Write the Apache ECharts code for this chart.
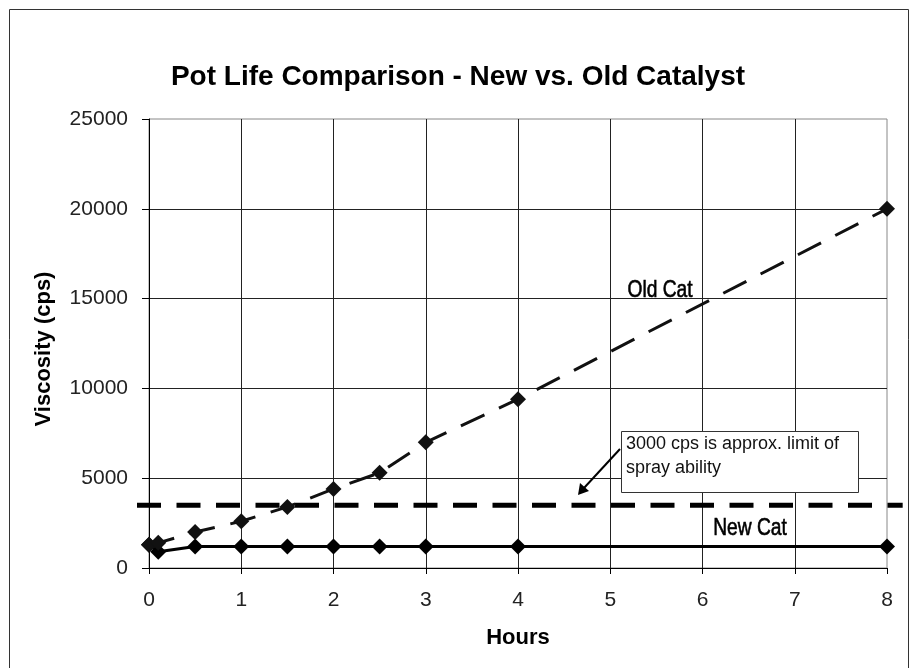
<!DOCTYPE html>
<html>
<head>
<meta charset="utf-8">
<script src="https://cdn.jsdelivr.net/npm/echarts@6/dist/echarts.min.js"></script>
<style>
html,body{margin:0;padding:0;background:#fff;}
#chart{width:916px;height:668px;}
</style>
</head>
<body>
<div id="chart"></div>
<script>
// ---- data ----
const hours = [0, 0.1, 0.5, 1, 1.5, 2, 2.5, 3, 4, 8];
const oldCat = [1300, 1400, 2000, 2600, 3400, 4400, 5300, 7000, 9400, 20000];
const newCat = [1300, 900, 1200, 1200, 1200, 1200, 1200, 1200, 1200, 1200];
const limitValue = 3500;
const limitSpan = [-0.13, 8.17];
const xTicks = [0, 1, 2, 3, 4, 5, 6, 7, 8];
const yTicks = [0, 5000, 10000, 15000, 20000, 25000];
const titleText = 'Pot Life Comparison - New vs. Old Catalyst';
const xName = 'Hours';
const yName = 'Viscosity (cps)';
const noteLines = ['3000 cps is approx. limit of', 'spray ability'];
const seriesLabels = ['Old Cat', 'New Cat'];

const chart = echarts.init(document.getElementById('chart'));
const F = 'Liberation Sans, Arial, sans-serif';
const NARROW = 'Liberation Sans Narrow, Arial Narrow, Liberation Sans, sans-serif';

const option = {
  animation: false,
  backgroundColor: '#fff',
  title: {
    text: titleText, left: 'center', top: 58,
    textStyle: {fontFamily: F, fontSize: 28, fontWeight: 'bold', color: '#000'}
  },
  grid: {left: 149, right: 29, top: 119, bottom: 100, show: true, borderColor: '#888', borderWidth: 1},
  xAxis: {
    type: 'value', min: xTicks[0], max: xTicks[xTicks.length - 1], interval: 1,
    name: xName, nameLocation: 'middle', nameGap: 59,
    nameTextStyle: {fontFamily: F, fontSize: 22, fontWeight: 'bold', color: '#000'},
    axisLine: {show: true, lineStyle: {color: '#000', width: 1}},
    axisTick: {show: true, length: 6, lineStyle: {color: '#000'}},
    axisLabel: {fontFamily: F, fontSize: 21, color: '#222', margin: 22},
    splitLine: {show: true, showMaxLine: false, lineStyle: {color: '#222', width: 1}}
  },
  yAxis: {
    type: 'value', min: yTicks[0], max: yTicks[yTicks.length - 1], interval: 5000,
    axisLine: {show: true, lineStyle: {color: '#000', width: 1}},
    axisTick: {show: true, length: 7, lineStyle: {color: '#000'}},
    axisLabel: {fontFamily: F, fontSize: 21, color: '#222', margin: 21, formatter: v => String(v)},
    splitLine: {show: true, showMaxLine: false, lineStyle: {color: '#222', width: 1}}
  },
  series: [
    {
      name: 'New Cat', type: 'line', z: 4,
      data: hours.map((h, i) => [h, newCat[i]]),
      symbol: 'diamond', symbolSize: 16,
      itemStyle: {color: '#000'},
      lineStyle: {color: '#000', width: 3}
    },
    {
      name: 'Old Cat', type: 'line', z: 5,
      data: hours.map((h, i) => [h, oldCat[i]]),
      symbol: 'diamond', symbolSize: 16,
      itemStyle: {color: '#111'},
      lineStyle: {color: '#111', width: 3, type: [26, 16]}
    }
  ]
};
chart.setOption(option);

// limit line drawn through the library's scales (extends slightly beyond the plot)
const pA = chart.convertToPixel({gridIndex: 0}, [limitSpan[0], limitValue]);
const pB = chart.convertToPixel({gridIndex: 0}, [limitSpan[1], limitValue]);

chart.setOption({
  graphic: [
    {type: 'rect', shape: {x: 9.5, y: 9.5, width: 899, height: 700}, style: {fill: 'none', stroke: '#333', lineWidth: 1}, z: 0, silent: true},
    {type: 'line', shape: {x1: pA[0], y1: pA[1], x2: pB[0], y2: pB[1]}, style: {stroke: '#000', lineWidth: 5, lineDash: [24, 15.5]}, z: 3},
    {type: 'text', x: 44, y: 349, rotation: Math.PI / 2, style: {text: yName, fontFamily: F, fontSize: 22, fontWeight: 'bold', fill: '#000', align: 'center', verticalAlign: 'middle'}, z: 11},
    {type: 'rect', shape: {x: 621.5, y: 431.5, width: 237, height: 61}, style: {fill: '#fff', stroke: '#333', lineWidth: 1}, z: 10},
    {type: 'text', x: 626, y: 444, style: {text: noteLines[0], fontFamily: F, fontSize: 18, fill: '#111', verticalAlign: 'middle'}, z: 11},
    {type: 'text', x: 626, y: 468, style: {text: noteLines[1], fontFamily: F, fontSize: 18, fill: '#111', verticalAlign: 'middle'}, z: 11},
    {type: 'line', shape: {x1: 620, y1: 449, x2: 584, y2: 488}, style: {stroke: '#000', lineWidth: 2}, z: 10},
    {type: 'polygon', shape: {points: [[578, 495], [580, 483], [589, 491]]}, style: {fill: '#000'}, z: 10},
    {type: 'text', x: 660, y: 290, scaleX: 0.8, style: {text: seriesLabels[0], fontFamily: F, fontSize: 24, fill: '#000', stroke: '#000', lineWidth: 0.6, align: 'center', verticalAlign: 'middle'}, z: 11},
    {type: 'text', x: 750, y: 528, scaleX: 0.8, style: {text: seriesLabels[1], fontFamily: F, fontSize: 24, fill: '#000', stroke: '#000', lineWidth: 0.6, align: 'center', verticalAlign: 'middle'}, z: 11}
  ]
});
</script>
</body>
</html>
